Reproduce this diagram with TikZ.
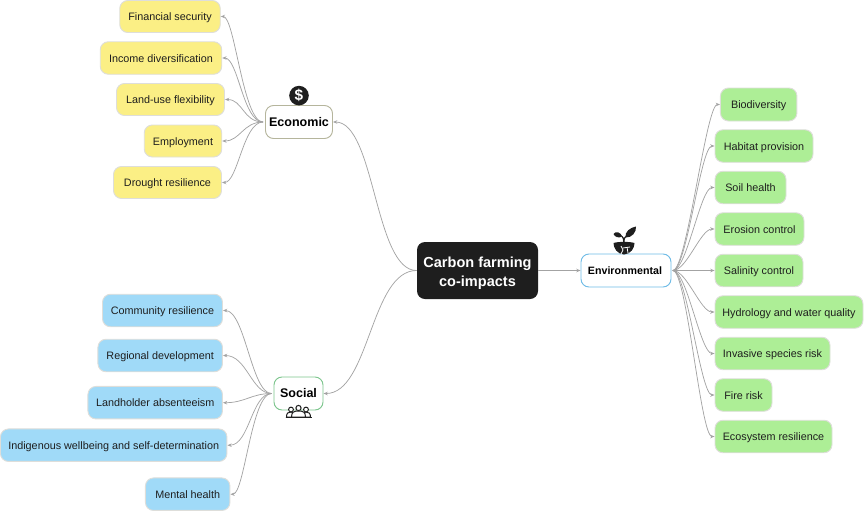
\documentclass[tikz,border=0pt]{standalone}
\usepackage{fontspec}
\setmainfont{Liberation Sans}
\usetikzlibrary{arrows.meta}
\definecolor{yel}{HTML}{FBEF85}
\definecolor{blu}{HTML}{A0DAF8}
\definecolor{grn}{HTML}{ADEE96}
\definecolor{leafedge}{HTML}{DEDEDA}
\definecolor{linkc}{HTML}{A3A3A3}
\definecolor{ink}{HTML}{1E1E1E}
\definecolor{ecoedge}{HTML}{B5B59C}
\definecolor{socedge}{HTML}{7CC58C}
\definecolor{envedge}{HTML}{6EBBE6}
\tikzset{
  sz/.style 2 args={minimum width=#1*0.75pt,minimum height=#2*0.75pt},
  base/.style={rounded corners=6pt,inner sep=0pt,align=center,line width=0.7pt},
  leaf/.style={base,draw=leafedge,font=\fontsize{8.1}{10}\selectfont,text=ink,text height=7pt,text depth=0.7pt},
  yleaf/.style={leaf,fill=yel},
  bleaf/.style={leaf,fill=blu},
  gleaf/.style={leaf,fill=grn},
  hub/.style={base,fill=white,text=black,font=\bfseries\fontsize{9.4}{11}\selectfont,text height=7.6pt,text depth=1.6pt},
  link/.style={draw=linkc,line width=0.55pt,-{Stealth[length=3.2pt,width=2.6pt]}},
}
\newcommand{\curve}[4]{\draw[link] (#1) .. controls +(#3,0) and +(#4,0) .. (#2);}
\begin{document}
\begin{tikzpicture}[x=0.75pt,y=-0.75pt]
\useasboundingbox (0,0) rectangle (866,511);
% central
\node[base,fill=ink,minimum width=121*0.75pt,minimum height=57*0.75pt] (core) at (477.5,270.5) {};
\node[inner sep=0pt,align=center,text=white,font=\bfseries\fontsize{10.9}{13.6}\selectfont] (corelabel) at (477.5,273.3) {Carbon farming\\co-impacts};
% hubs
\node[hub,draw=ecoedge,sz={67}{33}] (eco) at (299,122) {Economic};
\node[hub,draw=socedge,sz={49}{33}] (soc) at (298.5,393.5) {Social};
\node[hub,draw=envedge,sz={90}{33},font=\bfseries\fontsize{8}{10}\selectfont,text height=6.9pt,text depth=1.3pt] (env) at (626,270.5) {\hspace{-1.5pt}Environmental};
% economic leaves
\node[yleaf,sz={100.5}{32}] (fin) at (170,16.5) {Financial security};
\node[yleaf,sz={121.5}{32.5}] (inc) at (161,58) {Income diversification};
\node[yleaf,sz={108}{32}] (lan) at (170.5,99.5) {Land-use flexibility};
\node[yleaf,sz={77.5}{32}] (emp) at (183,141) {Employment};
\node[yleaf,sz={108}{32}] (dro) at (167.5,182.5) {Drought resilience};
% social leaves
\node[bleaf,sz={120}{32.5}] (com) at (162.5,310.5) {Community resilience};
\node[bleaf,sz={124.5}{32.5}] (reg) at (160.2,355.5) {Regional development};
\node[bleaf,sz={134.5}{32.5}] (lah) at (155.2,402.7) {Landholder absenteeism};
\node[bleaf,sz={226.5}{32.5}] (ind) at (113.7,445.2) {Indigenous wellbeing and self-determination};
\node[bleaf,sz={84.5}{32.5}] (men) at (187.7,494.2) {Mental health};
% environmental leaves
\node[gleaf,sz={76.5}{33}] (bio) at (758.7,104.5) {Biodiversity};
\node[gleaf,sz={98}{32.5}] (hab) at (764,146) {Habitat provision};
\node[gleaf,sz={71}{32.5}] (soi) at (750.5,187.5) {Soil health};
\node[gleaf,sz={89}{32.5}] (ero) at (759.5,229) {Erosion control};
\node[gleaf,sz={88}{32.5}] (sal) at (759,270.5) {Salinity control};
\node[gleaf,sz={148}{32.5}] (hyd) at (789,312) {Hydrology and water quality};
\node[gleaf,sz={115}{32.5}] (inv) at (772.5,353.5) {Invasive species risk};
\node[gleaf,sz={57}{32.5}] (fir) at (743.5,395) {Fire risk};
\node[gleaf,sz={117}{32.5}] (ecs) at (773.5,436.5) {Ecosystem resilience};
% hub links
\curve{core.west}{eco.east}{-42}{42}
\curve{core.west}{soc.east}{-46}{46}
\draw[link] (core.east) -- (env.west);
% economic links
\foreach \t/\d in {fin/14,inc/16,lan/18,emp/18,dro/16}{
  \draw[link] ([xshift=-1.5]eco.west) .. controls +(-20,0) and +(\d,0) .. (\t.east);
}
% social links
\foreach \t/\d in {com/22,reg/24,lah/22,ind/22,men/14}{
  \draw[link] ([xshift=-1.5]soc.west) .. controls +(-20,0) and +(\d,0) .. (\t.east);
}
% environmental links
\foreach \t in {bio,hab,soi,ero,sal,hyd,inv,fir,ecs}{
  \draw[link] ([xshift=1]env.east) .. controls +(14,0) and +(-14,0) .. (\t.west);
}
% dollar icon
\fill[ink] (299,95.6) circle (9.8);
\node[inner sep=0pt,text=white,font=\bfseries\fontsize{11.5}{12}\selectfont] (dollar) at (299,95.6) {\$};
% plant icon
\fill[ink] (613.5,243) .. controls (618,241.5) and (630,241.5) .. (634.5,243) .. controls (634.5,248) and (631,254) .. (624,254.5) .. controls (617,254) and (613.5,248) .. (613.5,243) -- cycle;
\draw[white,line width=0.6pt] (621,246) -- (623,250) -- (621,254) (623,248) -- (630,247) (627,247) -- (628,253);
\draw[ink,line width=0.9pt] (623.8,242.5) .. controls (623.5,238) and (623,237) .. (622,236.5);
\draw[ink,line width=0.9pt] (623.8,242.5) .. controls (624,238) and (625,237) .. (626,236.5);
\fill[ink] (613.5,234) .. controls (616,230.5) and (620,232) .. (622.5,236.5) .. controls (618,238.5) and (615,237) .. (613.5,234) -- cycle;
\fill[ink] (625.5,237.5) .. controls (624.5,232) and (630,227.5) .. (636,226.5) .. controls (636.5,232) and (632,238) .. (625.5,237.5) -- cycle;
% people icon
\begin{scope}[draw=ink,line width=0.75pt,fill=white]
\filldraw (286.5,417) .. controls (286.5,413) and (288,412) .. (291,412) .. controls (294,412) and (295.5,413) .. (295.5,417) -- cycle;
\filldraw (302,417) .. controls (302,413) and (303.5,412) .. (306,412) .. controls (308.5,412) and (310.5,413) .. (310.5,417) -- cycle;
\filldraw (291.5,417) .. controls (291.5,412) and (294,411) .. (298.5,411) .. controls (303,411) and (305.5,412) .. (305.5,417) -- cycle;
\filldraw (291,409.5) circle (2.4);
\filldraw (306,409.5) circle (2.4);
\filldraw (298.5,408) circle (2.6);
\draw (285.5,417) -- (311.5,417);
\end{scope}
\end{tikzpicture}
\end{document}
